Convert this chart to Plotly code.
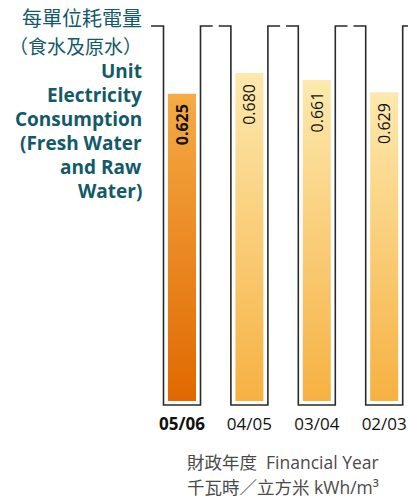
import plotly.graph_objects as go

# ---- data ----
years = ["05/06", "04/05", "03/04", "02/03"]
values = [0.625, 0.680, 0.661, 0.629]
value_labels = ["0.625", "0.680", "0.661", "0.629"]
highlight = [True, False, False, False]

title_zh = ["每單位耗電量", "（食水及原水）"]
title_en = ["Unit", "Electricity", "Consumption", "(Fresh Water", "and Raw", "Water)"]
axis_notes = ["財政年度  Financial Year", "千瓦時／立方米 kWh/m³"]

# ---- geometry helpers (pixel <-> data) ----
W, H = 408, 502
PLOT_BOTTOM = 412
X0_PX, STEP_PX = 182.0, 67.4
Y0_PX, PX_PER_UNIT = 330.5, 378.8


def xv(px):
    return (px - X0_PX) / STEP_PX


def yv(py):
    return (Y0_PX - py) / PX_PER_UNIT


def ypaper(py):
    return (PLOT_BOTTOM - py) / PLOT_BOTTOM


BASE = yv(401)
FRAME_TOP = yv(26)
FRAME_BOT = yv(405)
BAR_HW = 14 / STEP_PX
FRAME_HW = 18.5 / STEP_PX
GAP_HW = 3 / STEP_PX

TEAL = "#125a68"
EN_FONT = "Open Sans, Noto Sans CJK TC"
ZH_FONT = "Noto Sans CJK TC"

fig = go.Figure()

# gradient bars
for i, (v, h) in enumerate(zip(values, highlight)):
    cs = [[0, "#E06800"], [1, "#F5AB45"]] if h else [[0, "#F6B142"], [1, "#FDE9AE"]]
    fig.add_trace(go.Scatter(
        x=[i - BAR_HW, i + BAR_HW, i + BAR_HW, i - BAR_HW, i - BAR_HW],
        y=[BASE, BASE, v, v, BASE],
        mode="lines", line=dict(width=0), fill="toself",
        fillgradient=dict(type="vertical", colorscale=cs, start=BASE, stop=v),
        hoverinfo="skip", showlegend=False,
    ))

# square-wave frame line
n = len(values)
xs, ys = [xv(151)], [FRAME_TOP]
for i in range(n):
    l, r = i - FRAME_HW, i + FRAME_HW
    xs += [l, l, r, r]
    ys += [FRAME_TOP, FRAME_BOT, FRAME_BOT, FRAME_TOP]
    if i < n - 1:
        m = i + 0.5
        xs += [m - GAP_HW, None, m + GAP_HW]
        ys += [FRAME_TOP, None, FRAME_TOP]
    else:
        xs += [xv(W + 10)]
        ys += [FRAME_TOP]
fig.add_trace(go.Scatter(x=xs, y=ys, mode="lines",
                         line=dict(color="#2a2a2a", width=1.6),
                         hoverinfo="skip", showlegend=False, connectgaps=False))

annotations = []
# value labels
for i, (v, t, h) in enumerate(zip(values, value_labels, highlight)):
    annotations.append(dict(
        x=i, y=v, xref="x", yref="y", text=f"<b>{t}</b>" if h else t,
        textangle=-90, showarrow=False, xanchor="center", yanchor="top",
        yshift=-9, font=dict(family=EN_FONT, size=16, color="#111111"),
    ))

# left title
zh_y = [18, 46]
zh_size = [20, 19]
for t, py, s in zip(title_zh, zh_y, zh_size):
    annotations.append(dict(x=144 / W, y=ypaper(py), xref="paper", yref="paper",
                            text=t, showarrow=False, xanchor="right", yanchor="middle",
                            font=dict(family=ZH_FONT, size=s, color=TEAL)))
en_y = [71, 95, 119, 143, 167, 191]
for t, py in zip(title_en, en_y):
    annotations.append(dict(x=144 / W, y=ypaper(py), xref="paper", yref="paper",
                            text=f"<b>{t}</b>", showarrow=False, xanchor="right", yanchor="middle",
                            font=dict(family=EN_FONT, size=19, color=TEAL)))

# axis notes
for t, py in zip(axis_notes, [462, 487]):
    annotations.append(dict(x=283 / W, y=ypaper(py), xref="paper", yref="paper",
                            text=t, showarrow=False, xanchor="center", yanchor="middle",
                            font=dict(family=EN_FONT, size=17.5, color="#4a4a4a")))

fig.update_layout(
    width=W, height=H,
    margin=dict(l=0, r=0, t=0, b=H - PLOT_BOTTOM, pad=0),
    paper_bgcolor="white", plot_bgcolor="white",
    xaxis=dict(range=[xv(0), xv(W)], tickvals=list(range(n)),
               ticktext=[f"<b>{y}</b>" if h else y for y, h in zip(years, highlight)],
               showgrid=False, zeroline=False, showline=False, ticks="",
               tickfont=dict(family=EN_FONT, size=17, color="#111111"), fixedrange=True),
    yaxis=dict(range=[yv(PLOT_BOTTOM), yv(0)], visible=False, fixedrange=True),
    annotations=annotations,
    showlegend=False,
)

fig.write_html("out.html")
